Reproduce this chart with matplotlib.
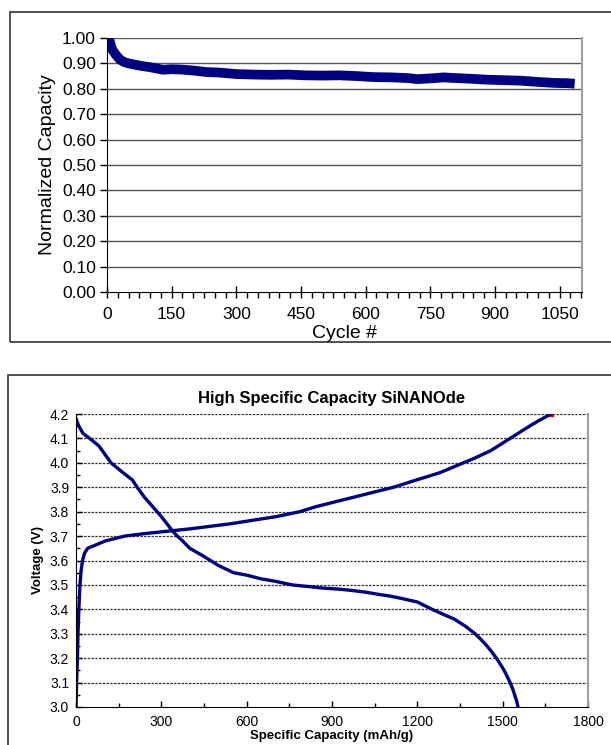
import matplotlib
matplotlib.use("Agg")
import matplotlib.pyplot as plt
from matplotlib.patches import Rectangle
from matplotlib.ticker import MultipleLocator, FormatStrFormatter

plt.rcParams['font.family'] = ['Liberation Sans', 'DejaVu Sans']

# ---- Top chart: capacity retention ----
cycles = [0, 3, 6, 9, 12, 16, 20, 25, 30, 40, 50, 65, 80, 100, 115, 130, 150, 170,
          200, 230, 260, 300, 340, 380, 420, 460, 500, 540, 580, 620, 660, 700,
          720, 740, 760, 780, 800, 840, 880, 920, 960, 1000, 1040, 1070, 1085]
capacity = [1.00, 1.00, 0.99, 0.97, 0.955, 0.945, 0.935, 0.925, 0.915, 0.905, 0.90,
            0.895, 0.89, 0.885, 0.88, 0.875, 0.877, 0.876, 0.872, 0.866, 0.864,
            0.858, 0.856, 0.855, 0.856, 0.853, 0.852, 0.853, 0.850, 0.846, 0.845,
            0.842, 0.838, 0.840, 0.842, 0.845, 0.843, 0.840, 0.836, 0.834, 0.832,
            0.827, 0.823, 0.822, 0.82]
top_yticks = [0.0, 0.1, 0.2, 0.3, 0.4, 0.5, 0.6, 0.7, 0.8, 0.9, 1.0]
top_xticks = [0, 150, 300, 450, 600, 750, 900, 1050]

# ---- Bottom chart: voltage profiles ----
charge_cap = [0, 2, 5, 7, 10, 14, 18, 23, 30, 41, 62, 103, 171, 240, 322, 404, 472,
              541, 595, 650, 705, 746, 787, 842, 910, 979, 1047, 1116, 1170, 1225,
              1280, 1321, 1362, 1403, 1458, 1499, 1526, 1560, 1594, 1630, 1670]
charge_v = [3.00, 3.10, 3.20, 3.30, 3.40, 3.50, 3.56, 3.60, 3.63, 3.65, 3.66, 3.68,
            3.70, 3.71, 3.72, 3.73, 3.74, 3.75, 3.76, 3.77, 3.78, 3.79, 3.80, 3.82,
            3.84, 3.86, 3.88, 3.90, 3.92, 3.94, 3.96, 3.98, 4.00, 4.02, 4.05, 4.08,
            4.10, 4.125, 4.15, 4.175, 4.20]
discharge_cap = [0, 10, 25, 48, 80, 123, 165, 198, 215, 240, 270, 300, 320, 340, 356,
                 375, 400, 445, 500, 554, 600, 650, 700, 760, 820, 860, 920, 965,
                 1020, 1060, 1100, 1143, 1200, 1252, 1300, 1330, 1370, 1403, 1425,
                 1445, 1462, 1478, 1492, 1505, 1516, 1526, 1535, 1542, 1549, 1554]
discharge_v = [4.18, 4.15, 4.12, 4.10, 4.07, 4.00, 3.96, 3.93, 3.90, 3.86, 3.82, 3.78,
               3.75, 3.72, 3.70, 3.68, 3.65, 3.62, 3.58, 3.55, 3.54, 3.525, 3.515,
               3.50, 3.493, 3.488, 3.483, 3.478, 3.47, 3.462, 3.455, 3.445, 3.43,
               3.40, 3.375, 3.36, 3.33, 3.30, 3.275, 3.25, 3.225, 3.20, 3.175, 3.15,
               3.125, 3.10, 3.075, 3.05, 3.025, 3.00]
end_point_cap = [1670]
end_point_v = [4.20]
bot_xticks = [0, 300, 600, 900, 1200, 1500, 1800]
bot_yticks = [3.0, 3.1, 3.2, 3.3, 3.4, 3.5, 3.6, 3.7, 3.8, 3.9, 4.0, 4.1, 4.2]

W, H = 611, 745
fig = plt.figure(figsize=(W / 100, H / 100), dpi=100)

def fx(px):
    return px / W

def fy(py):
    return 1 - py / H

# Outer frames
fig.patches.append(Rectangle((fx(10), fy(342)), fx(611) - fx(10) + 0.01, fy(12) - fy(342),
                             transform=fig.transFigure, fill=False, edgecolor='#333333',
                             linewidth=1.2))
fig.patches.append(Rectangle((fx(8), fy(760)), fx(620) - fx(8), fy(375) - fy(760),
                             transform=fig.transFigure, fill=False, edgecolor='#333333',
                             linewidth=1.2))

navy = '#000080'

# ---- Top axes ----
ax1 = fig.add_axes([fx(107), fy(292), fx(582) - fx(107), fy(38) - fy(292)])
ax1.plot(cycles, capacity, color=navy, linewidth=7, solid_capstyle='butt',
         solid_joinstyle='round')
ax1.set_xlim(0, 1102)
ax1.set_ylim(0, 1.0)
ax1.set_yticks(top_yticks)
ax1.yaxis.set_major_formatter(FormatStrFormatter('%.2f'))
ax1.set_xticks(top_xticks)
ax1.xaxis.set_minor_locator(MultipleLocator(25))
for y in top_yticks[1:]:
    ax1.axhline(y, color='#555555', linewidth=1.0, zorder=0)
ax1.spines['top'].set_visible(False)
ax1.spines['right'].set_color('#a0a0a0')
ax1.spines['right'].set_linewidth(1.5)
ax1.spines['left'].set_color('black')
ax1.spines['bottom'].set_color('black')
ax1.tick_params(axis='y', direction='out', length=5, width=1, labelsize=12.5, pad=3)
ax1.tick_params(axis='x', which='major', direction='inout', length=8, width=1,
                labelsize=12.5, pad=7)
ax1.tick_params(axis='x', which='minor', direction='out', length=4, width=1)
ax1.set_ylabel('Normalized Capacity', fontsize=14, labelpad=4)
ax1.set_xlabel('Cycle #', fontsize=14, labelpad=2)

# ---- Bottom axes ----
ax2 = fig.add_axes([fx(76), fy(707), fx(588) - fx(76), fy(414) - fy(707)])
ax2.plot(charge_cap, charge_v, color=navy, linewidth=2.4, solid_joinstyle='round')
ax2.plot(discharge_cap, discharge_v, color=navy, linewidth=2.4, solid_joinstyle='round')
ax2.plot(end_point_cap, end_point_v, 's', color='red', markersize=3, zorder=1)
ax2.set_xlim(0, 1800)
ax2.set_ylim(3.0, 4.2)
ax2.set_xticks(bot_xticks)
ax2.set_yticks(bot_yticks)
ax2.yaxis.set_major_formatter(FormatStrFormatter('%.1f'))
ax2.xaxis.set_minor_locator(MultipleLocator(150))
ax2.yaxis.set_minor_locator(MultipleLocator(0.05))
for y in bot_yticks[1:]:
    ax2.axhline(y, color='#333333', linewidth=0.9, linestyle=(0, (2, 1)), zorder=0)
ax2.spines['top'].set_visible(False)
ax2.spines['right'].set_color('#a0a0a0')
ax2.spines['right'].set_linewidth(1.5)
ax2.tick_params(axis='both', which='major', direction='in', length=4, width=1,
                labelsize=10)
ax2.tick_params(axis='both', which='minor', direction='in', length=3, width=1)
ax2.tick_params(axis='x', which='major', pad=6)
ax2.tick_params(axis='y', which='major', pad=5)
ax2.set_xlabel('Specific Capacity (mAh/g)', fontsize=9.5, fontweight='bold', labelpad=0.5)
ax2.set_ylabel('Voltage (V)', fontsize=9.5, fontweight='bold', labelpad=4)
ax2.set_title('High Specific Capacity SiNANOde', fontsize=12, fontweight='bold', pad=8)

fig.savefig('out.png', dpi=100)
